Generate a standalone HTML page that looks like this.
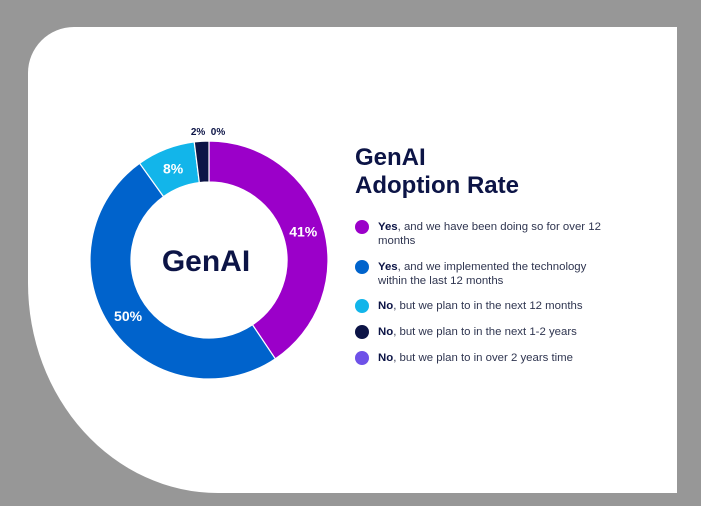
<!DOCTYPE html>
<html><head><meta charset="utf-8"><style>
body{margin:0;width:701px;height:506px;background:#979797;position:relative;overflow:hidden;font-family:"Liberation Sans",sans-serif}
#card{position:absolute;left:28px;top:27px;width:649px;height:466px;background:#fff;border-top-left-radius:46px;border-bottom-left-radius:190px 210px}
.title{position:absolute;left:355px;top:144px;font-size:24px;font-weight:bold;color:#0c1446;line-height:28px}
.leg{position:absolute;left:378px;font-size:11.4px;color:#2f3550;line-height:14px;width:228px}
.leg b{color:#0c1446}
.dot{position:absolute;left:-23px;top:0px;width:14px;height:14px;border-radius:50%}
</style></head><body>
<div id="card"></div>
<svg id="chart" width="701" height="506" style="position:absolute;left:0;top:0"></svg>
<div class="title">GenAI<br>Adoption Rate</div>
<div class="leg" style="top:220px"><span class="dot" style="background:#9b00c9"></span><b>Yes</b>, and we have been doing so for over 12 months</div>
<div class="leg" style="top:260px"><span class="dot" style="background:#0063cc"></span><b>Yes</b>, and we implemented the technology within the last 12 months</div>
<div class="leg" style="top:299px"><span class="dot" style="background:#12b5ea"></span><b>No</b>, but we plan to in the next 12 months</div>
<div class="leg" style="top:325px"><span class="dot" style="background:#0c1446"></span><b>No</b>, but we plan to in the next 1-2 years</div>
<div class="leg" style="top:351px"><span class="dot" style="background:#6e51e8"></span><b>No</b>, but we plan to in over 2 years time</div>
<script>
const categories=["Yes over 12 months","Yes last 12 months","No next 12 months","No next 1-2 years","No over 2 years"];
const values=[41,50,8,2,0];
const labels=["41%","50%","8%","2%","0%"];
const colors=["#9b00c9","#0063cc","#12b5ea","#0c1446","#6e51e8"];
const NS="http://www.w3.org/2000/svg";
const svg=document.getElementById('chart');
const cx=209,cy=260,R=119,r=78;
const total=values.reduce((a,b)=>a+b,0);
function pt(a,rad){return [cx+rad*Math.sin(a),cy-rad*Math.cos(a)];}
let acc=0;
values.forEach((v,i)=>{
  const a0=acc/total*2*Math.PI;acc+=v;const a1=acc/total*2*Math.PI;
  const large=(a1-a0)>Math.PI?1:0;
  if(v>0){
    const p0=pt(a0,R),p1=pt(a1,R),q1=pt(a1,r),q0=pt(a0,r);
    const p=document.createElementNS(NS,'path');
    p.setAttribute('d',`M${p0}A${R},${R} 0 ${large} 1 ${p1}L${q1}A${r},${r} 0 ${large} 0 ${q0}Z`);
    p.setAttribute('fill',colors[i]);p.setAttribute('stroke','#fff');p.setAttribute('stroke-width','1.2');
    
    
    svg.appendChild(p);
  }
  const mid=(a0+a1)/2;
  const small=v/total<0.04;
  const lp=small?pt(mid,R+9):pt(mid,(R+r)/2);
  const t=document.createElementNS(NS,'text');
  t.setAttribute('x',lp[0]+(small&&v>0?-3:0)+(small&&v===0?9:0));t.setAttribute('y',lp[1]+(small?3:5));
  t.setAttribute('text-anchor','middle');
  t.setAttribute('font-size',small?'10':'14');t.setAttribute('font-weight','bold');
  t.setAttribute('fill',small?'#0c1446':'#fff');
  t.textContent=labels[i];
  
  
  svg.appendChild(t);
});
const c=document.createElementNS(NS,'text');
c.setAttribute('x',cx-3);c.setAttribute('y',cy+11);c.setAttribute('text-anchor','middle');
c.setAttribute('font-size','30');c.setAttribute('font-weight','bold');c.setAttribute('fill','#0c1446');
c.textContent='GenAI';


svg.appendChild(c);
</script>
</body></html>
